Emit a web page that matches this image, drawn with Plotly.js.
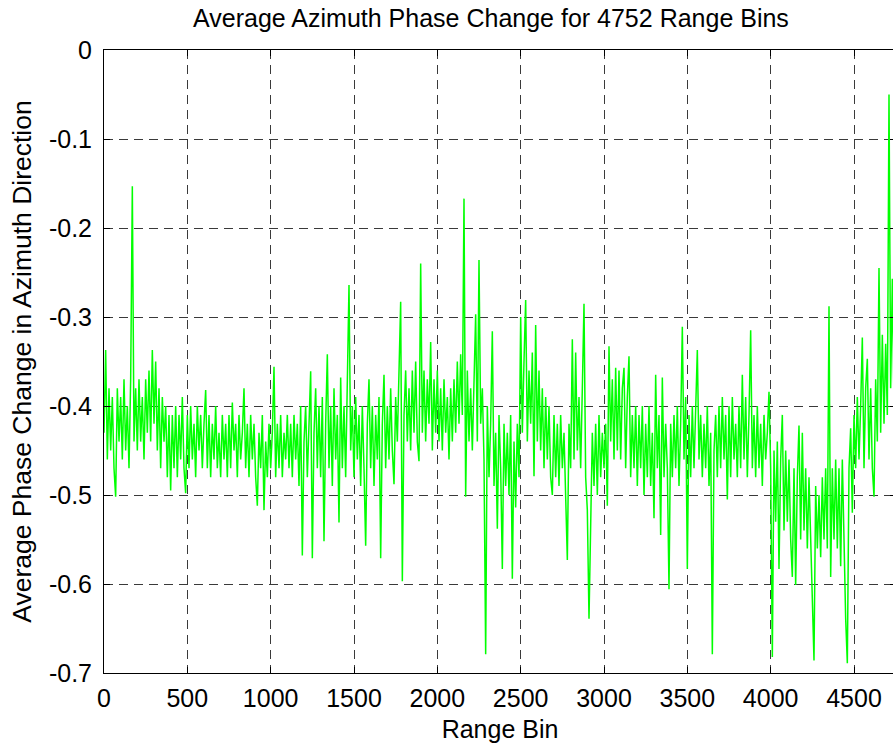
<!DOCTYPE html>
<html>
<head>
<meta charset="utf-8">
<script src="https://cdn.plot.ly/plotly-3.0.1.min.js"></script>
<style>
  html, body { margin: 0; padding: 0; overflow: hidden; background: #ffffff; }
  #chart { width: 900px; height: 746px; }
</style>
</head>
<body>
<div id="chart"></div>
<script>
// Sampling step of the values (range bins between samples)
const BIN_STEP = 10;
const TOTAL_BINS = 4752;

// Average azimuth phase change, one value every 10 range bins
const phaseChange = [
  -0.43, -0.337, -0.46, -0.38, -0.45, -0.39, -0.47, -0.502, -0.38, -0.44,
  -0.39, -0.46, -0.37, -0.45, -0.40, -0.47, -0.37, -0.153, -0.44, -0.38,
  -0.45, -0.37, -0.44, -0.39, -0.46, -0.37, -0.43, -0.36, -0.44, -0.337,
  -0.42, -0.35, -0.45, -0.38, -0.47, -0.39, -0.44, -0.40, -0.48, -0.41,
  -0.495, -0.41, -0.47, -0.40, -0.48, -0.41, -0.46, -0.39, -0.47, -0.498,
  -0.41, -0.47, -0.40, -0.46, -0.42, -0.48, -0.40, -0.45, -0.41, -0.47,
  -0.42, -0.382, -0.47, -0.41, -0.48, -0.42, -0.46, -0.40, -0.47, -0.43,
  -0.48, -0.41, -0.46, -0.42, -0.48, -0.41, -0.47, -0.396, -0.45, -0.42,
  -0.48, -0.41, -0.46, -0.43, -0.38, -0.47, -0.42, -0.48, -0.41, -0.46,
  -0.42, -0.48, -0.512, -0.43, -0.47, -0.41, -0.517, -0.44, -0.48, -0.42,
  -0.47, -0.43, -0.356, -0.48, -0.42, -0.47, -0.41, -0.48, -0.43, -0.46,
  -0.41, -0.47, -0.42, -0.48, -0.41, -0.46, -0.42, -0.49, -0.40, -0.568,
  -0.44, -0.40, -0.48, -0.41, -0.361, -0.571, -0.43, -0.38, -0.47, -0.40,
  -0.48, -0.39, -0.552, -0.42, -0.342, -0.47, -0.40, -0.49, -0.38, -0.46,
  -0.41, -0.531, -0.368, -0.47, -0.40, -0.48, -0.39, -0.264, -0.45, -0.40,
  -0.48, -0.39, -0.46, -0.41, -0.49, -0.40, -0.47, -0.557, -0.42, -0.37,
  -0.47, -0.40, -0.49, -0.41, -0.46, -0.39, -0.571, -0.42, -0.365, -0.47,
  -0.40, -0.46, -0.38, -0.45, -0.488, -0.39, -0.44, -0.37, -0.283, -0.597,
  -0.41, -0.36, -0.44, -0.38, -0.45, -0.36, -0.43, -0.35, -0.44, -0.462,
  -0.24, -0.43, -0.36, -0.44, -0.37, -0.42, -0.328, -0.45, -0.37, -0.43,
  -0.36, -0.44, -0.38, -0.45, -0.37, -0.43, -0.39, -0.46, -0.38, -0.44,
  -0.37, -0.43, -0.35, -0.42, -0.342, -0.41, -0.167, -0.502, -0.36, -0.44,
  -0.38, -0.45, -0.37, -0.297, -0.44, -0.236, -0.42, -0.38, -0.46, -0.679,
  -0.40, -0.48, -0.42, -0.316, -0.49, -0.43, -0.538, -0.41, -0.47, -0.583,
  -0.42, -0.49, -0.43, -0.50, -0.41, -0.594, -0.44, -0.514, -0.42, -0.48,
  -0.30, -0.43, -0.35, -0.281, -0.44, -0.36, -0.42, -0.34, -0.479, -0.309,
  -0.44, -0.36, -0.45, -0.38, -0.47, -0.39, -0.46, -0.40, -0.48, -0.50,
  -0.41, -0.48, -0.42, -0.49, -0.41, -0.47, -0.43, -0.49, -0.573, -0.42,
  -0.47, -0.325, -0.46, -0.34, -0.45, -0.39, -0.47, -0.38, -0.285, -0.48,
  -0.517, -0.639, -0.535, -0.43, -0.49, -0.42, -0.50, -0.41, -0.48, -0.43,
  -0.47, -0.42, -0.512, -0.333, -0.44, -0.37, -0.46, -0.357, -0.45, -0.36,
  -0.46, -0.38, -0.357, -0.47, -0.39, -0.344, -0.48, -0.41, -0.47, -0.40,
  -0.49, -0.41, -0.47, -0.40, -0.50, -0.42, -0.48, -0.40, -0.49, -0.43,
  -0.526, -0.365, -0.47, -0.41, -0.545, -0.368, -0.48, -0.42, -0.47, -0.606,
  -0.42, -0.48, -0.41, -0.47, -0.40, -0.49, -0.42, -0.311, -0.46, -0.39,
  -0.583, -0.41, -0.48, -0.40, -0.47, -0.39, -0.337, -0.46, -0.41, -0.48,
  -0.42, -0.47, -0.40, -0.49, -0.43, -0.679, -0.45, -0.41, -0.48, -0.40,
  -0.47, -0.39, -0.46, -0.41, -0.505, -0.40, -0.48, -0.39, -0.46, -0.42,
  -0.48, -0.40, -0.47, -0.365, -0.46, -0.39, -0.48, -0.41, -0.315, -0.47,
  -0.41, -0.48, -0.40, -0.47, -0.42, -0.49, -0.41, -0.46, -0.43, -0.384,
  -0.47, -0.682, -0.45, -0.53, -0.44, -0.583, -0.46, -0.41, -0.54, -0.45,
  -0.53, -0.46, -0.55, -0.592, -0.47, -0.601, -0.48, -0.422, -0.55, -0.43,
  -0.54, -0.47, -0.56, -0.48, -0.55, -0.623, -0.686, -0.49, -0.56, -0.50,
  -0.57, -0.48, -0.55, -0.47, -0.56, -0.288, -0.592, -0.47, -0.55, -0.46,
  -0.56, -0.47, -0.58, -0.46, -0.55, -0.639, -0.689, -0.47, -0.425, -0.52,
  -0.41, -0.47, -0.39, -0.46, -0.40, -0.323, -0.47, -0.38, -0.347, -0.46,
  -0.38, -0.47, -0.502, -0.37, -0.44, -0.245, -0.43, -0.32, -0.42, -0.33,
  -0.41, -0.05, -0.38, -0.257, -0.40, -0.33
];

// Range bin of each value (the series is plotted against its bin index)
const rangeBins = phaseChange.map((_, i) => i * BIN_STEP);

// Axis ticks
const xTickVals = [0, 500, 1000, 1500, 2000, 2500, 3000, 3500, 4000, 4500];
const xTickText = ["0", "500", "1000", "1500", "2000", "2500", "3000", "3500", "4000", "4500"];
const yTickVals = [0, -0.1, -0.2, -0.3, -0.4, -0.5, -0.6, -0.7];
const yTickText = ["0", "-0.1", "-0.2", "-0.3", "-0.4", "-0.5", "-0.6", "-0.7"];

const FONT = "Arial, 'Liberation Sans', Helvetica, sans-serif";
const FONT_SIZE = 25;

const trace = {
  x: rangeBins,
  y: phaseChange,
  type: "scatter",
  mode: "lines",
  line: { color: "#00ff00", width: 1.5 },
  hoverinfo: "x+y"
};

const axisCommon = {
  showline: true,
  linecolor: "#000000",
  linewidth: 1,
  mirror: "ticks",
  ticks: "inside",
  ticklen: 6,
  tickcolor: "#000000",
  tickwidth: 1,
  showgrid: true,
  gridcolor: "#3a3a3a",
  gridwidth: 1,
  griddash: "9px,6px",
  zeroline: false,
  tickfont: { family: FONT, size: FONT_SIZE, color: "#000000" },
  automargin: false
};

const layout = {
  width: 900,
  height: 746,
  paper_bgcolor: "#ffffff",
  plot_bgcolor: "#ffffff",
  showlegend: false,
  margin: { l: 104, r: 4, t: 50, b: 73, pad: 0 },
  font: { family: FONT, size: FONT_SIZE, color: "#000000" },
  title: {
    text: "Average Azimuth Phase Change for 4752 Range Bins",
    font: { family: FONT, size: FONT_SIZE, color: "#000000" },
    xref: "container",
    yref: "container",
    x: 491 / 900,
    xanchor: "center",
    y: 1 - 18 / 746,
    yanchor: "middle"
  },
  xaxis: Object.assign({}, axisCommon, {
    range: [0, TOTAL_BINS],
    tickmode: "array",
    tickvals: xTickVals,
    ticktext: xTickText,
    ticklabelstandoff: 3,
    title: { text: "Range Bin", font: { family: FONT, size: FONT_SIZE, color: "#000000" }, standoff: 9 }
  }),
  yaxis: Object.assign({}, axisCommon, {
    range: [-0.7, 0],
    tickmode: "array",
    tickvals: yTickVals,
    ticktext: yTickText,
    ticklabelstandoff: 6,
    title: { text: "Average Phase Change in Azimuth Direction", font: { family: FONT, size: 26.5, color: "#000000" }, standoff: 9 }
  })
};

Plotly.newPlot("chart", [trace], layout, { displayModeBar: false, staticPlot: true });
</script>
</body>
</html>
